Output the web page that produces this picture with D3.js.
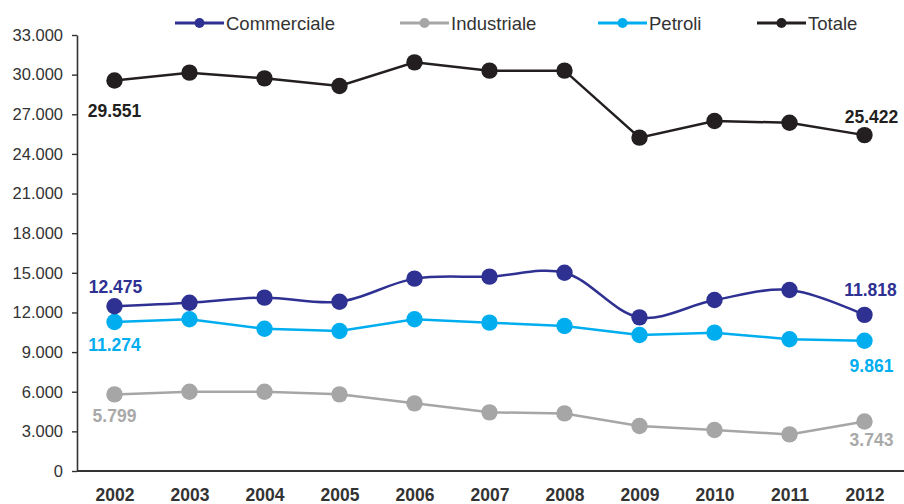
<!DOCTYPE html>
<html>
<head>
<meta charset="utf-8">
<script src="https://cdn.jsdelivr.net/npm/d3@7"></script>
<style>
  html, body { margin: 0; padding: 0; background: #fff; }
  svg { display: block; font-family: "Liberation Sans", Arial, sans-serif; }
</style>
</head>
<body>
<svg id="chart" width="904" height="504"></svg>
<script>
// Years on the x axis
const years = ["2002", "2003", "2004", "2005", "2006", "2007", "2008", "2009", "2010", "2011", "2012"];

// Series values
const commerciale = [12475, 12740, 13120, 12810, 14560, 14710, 15010, 11630, 12940, 13700, 11818];
const industriale = [5799, 6000, 6000, 5800, 5120, 4440, 4360, 3410, 3100, 2770, 3743];
const petroli     = [11274, 11480, 10770, 10600, 11480, 11230, 10980, 10290, 10470, 9970, 9861];
const totale      = [29551, 30150, 29720, 29140, 30930, 30300, 30300, 25230, 26490, 26360, 25422];

// Y axis ticks
const yTicks = [0, 3000, 6000, 9000, 12000, 15000, 18000, 21000, 24000, 27000, 30000, 33000];

const seriesNames = ["Commerciale", "Industriale", "Petroli", "Totale"];
const seriesValues = [commerciale, industriale, petroli, totale];
const seriesColors = ["#2E3192", "#A6A6A6", "#00AEEF", "#231F20"];
const labelColors  = ["#2E3192", "#A9A9A9", "#00AEEF", "#231F20"];
// Commerciale is drawn as a smoothed line, the others as straight segments
const seriesSmooth = [true, false, false, false];

// Offsets of the first/last value labels relative to their point: [dx, dy]
const firstLabelOffset = [[1, -13], [0, 28], [0, 29], [0, 36]];
const lastLabelOffset  = [[6, -19], [7, 24.5], [7, 31], [7, -12]];

const locale = d3.formatLocale({ decimal: ",", thousands: ".", grouping: [3], currency: ["", "€"] });
const fmt = locale.format(",d");

const svg = d3.select("#chart");

const x = d3.scalePoint().domain(years).range([77, 902]).padding(0.5);
const y = d3.scaleLinear().domain([0, 33000]).range([471, 35]);

// Y axis
const yAxis = d3.axisLeft(y).tickValues(yTicks).tickFormat(fmt).tickSize(5).tickSizeOuter(0).tickPadding(9);
const gy = svg.append("g").attr("transform", "translate(77,0)").call(yAxis);
gy.select(".domain").attr("stroke", "#333").attr("stroke-width", 1.6);
gy.selectAll(".tick line").attr("stroke", "#333").attr("stroke-width", 1.4);
gy.selectAll(".tick text").attr("fill", "#333").attr("font-size", "16.5px")
  .attr("font-family", "'Liberation Sans', Arial, sans-serif");

// X axis (baseline and year labels, no tick marks)
const xAxis = d3.axisBottom(x).tickSize(0).tickSizeOuter(0).tickPadding(18);
const gx = svg.append("g").attr("transform", "translate(0,471)").call(xAxis);
gx.select(".domain").attr("d", "M77,0H904").attr("stroke", "#333").attr("stroke-width", 2);
gx.selectAll(".tick text").attr("fill", "#333").attr("font-size", "17.5px").attr("font-weight", "bold")
  .attr("font-family", "'Liberation Sans', Arial, sans-serif");

// Series lines and markers
const lineFor = smooth => d3.line()
  .x((d, i) => x(years[i]))
  .y(d => y(d))
  .curve(smooth ? d3.curveCatmullRom.alpha(0.5) : d3.curveLinear);

const drawOrder = [1, 2, 0, 3];
drawOrder.forEach(s => {
  const vals = seriesValues[s];
  const g = svg.append("g");
  g.append("path")
    .datum(vals)
    .attr("d", lineFor(seriesSmooth[s]))
    .attr("fill", "none")
    .attr("stroke", seriesColors[s])
    .attr("stroke-width", 2.5);
  g.selectAll("circle")
    .data(vals)
    .join("circle")
    .attr("cx", (d, i) => x(years[i]))
    .attr("cy", d => y(d))
    .attr("r", 8.2)
    .attr("fill", seriesColors[s]);
});

// First and last value labels
seriesValues.forEach((vals, s) => {
  const n = vals.length;
  [[0, firstLabelOffset[s]], [n - 1, lastLabelOffset[s]]].forEach(([i, off]) => {
    svg.append("text")
      .attr("x", x(years[i]) + off[0])
      .attr("y", y(vals[i]) + off[1])
      .attr("text-anchor", "middle")
      .attr("font-size", "17.5px")
      .attr("font-weight", "bold")
      .attr("fill", labelColors[s])
      .text(fmt(vals[i]));
  });
});

// Legend
const legendX = [175, 400, 598, 757];
const legend = svg.append("g");
seriesNames.forEach((name, s) => {
  const lg = legend.append("g").attr("transform", `translate(${legendX[s]},23)`);
  lg.append("line").attr("x1", 0).attr("x2", 49).attr("y1", 0).attr("y2", 0)
    .attr("stroke", seriesColors[s]).attr("stroke-width", 3);
  lg.append("circle").attr("cx", 24.5).attr("cy", 0).attr("r", 5).attr("fill", seriesColors[s]);
  lg.append("text").attr("x", 51).attr("y", 6.5)
    .attr("font-size", "18.5px").attr("fill", "#333").text(name);
});
</script>
</body>
</html>
